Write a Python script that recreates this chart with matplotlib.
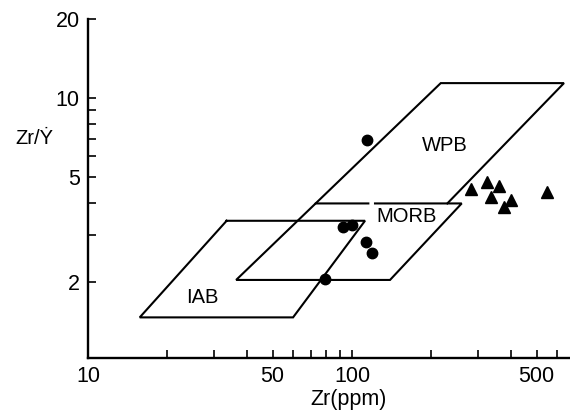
import matplotlib
matplotlib.use("Agg")
import matplotlib.pyplot as plt
from matplotlib.ticker import FixedLocator, FixedFormatter, NullFormatter

plt.rcParams['font.family'] = ['Liberation Sans', 'DejaVu Sans']

# Discrimination fields (Zr ppm, Zr/Y), drawn as open outlines
wpb_zr = [229.6, 635.0, 216.8, 72.8]
wpb_ratio = [3.97, 11.4, 11.4, 3.97]

morb_zr = [122.2, 260.3, 139.3, 36.4, 72.8, 115.3]
morb_ratio = [3.97, 3.97, 2.03, 2.03, 3.97, 3.97]

iab_zr = [33.5, 112.0, 59.8, 15.7, 33.5]
iab_ratio = [3.41, 3.41, 1.462, 1.462, 3.41]

# Samples
circle_zr = [114.3, 92.7, 100.0, 112.7, 118.8, 79.0]
circle_ratio = [6.90, 3.23, 3.30, 2.82, 2.57, 2.05]

triangle_zr = [281.6, 325.5, 361.4, 336.1, 400.0, 376.5, 546.4]
triangle_ratio = [4.52, 4.79, 4.62, 4.20, 4.08, 3.85, 4.39]

field_labels = ["WPB", "MORB", "IAB"]
label_zr = [225.0, 161.0, 27.1]
label_ratio = [6.61, 3.53, 1.74]

x_ticks = [10, 20, 30, 40, 50, 60, 70, 80, 90, 100, 200, 300, 400, 500, 600]
x_ticklabels = ["10", "", "", "", "50", "", "", "", "", "100", "", "", "", "500", ""]
y_ticks = [2, 3, 4, 5, 6, 7, 8, 9, 10, 20]
y_ticklabels = ["2", "", "", "5", "", "", "", "", "10", "20"]

fig = plt.figure(figsize=(5.7, 4.13), dpi=100)
ax = fig.add_axes([0.15439, 0.13317, 0.8488, 0.82083])
ax.set_xscale('log')
ax.set_yscale('log')
ax.set_xlim(10, 680)
ax.set_ylim(1.024, 20)

lw = 1.5
ax.plot(wpb_zr, wpb_ratio, color='black', lw=lw, solid_joinstyle='miter')
ax.plot(morb_zr, morb_ratio, color='black', lw=lw, solid_joinstyle='miter')
ax.plot(iab_zr, iab_ratio, color='black', lw=lw, solid_joinstyle='miter')

ax.plot(circle_zr, circle_ratio, 'o', color='black', ms=7.5, zorder=3)
ax.plot(triangle_zr, triangle_ratio, '^', color='black', ms=8, zorder=3)

for t, x, y in zip(field_labels, label_zr, label_ratio):
    ax.text(x, y, t, ha='center', va='center', fontsize=14.5)

for s in ['top', 'right']:
    ax.spines[s].set_visible(False)
for s in ['left', 'bottom']:
    ax.spines[s].set_linewidth(1.7)

ax.xaxis.set_major_locator(FixedLocator(x_ticks))
ax.xaxis.set_major_formatter(FixedFormatter(x_ticklabels))
ax.xaxis.set_minor_formatter(NullFormatter())
ax.xaxis.set_minor_locator(FixedLocator([]))
ax.yaxis.set_major_locator(FixedLocator(y_ticks))
ax.yaxis.set_major_formatter(FixedFormatter(y_ticklabels))
ax.yaxis.set_minor_formatter(NullFormatter())
ax.yaxis.set_minor_locator(FixedLocator([]))
ax.tick_params(which='major', direction='in', length=6, width=1.2,
               labelsize=15.5, pad=6)

ax.set_xlabel("Zr(ppm)", fontsize=15.5)
ax.xaxis.set_label_coords(0.539, -0.09)
fig.text(34 / 570, 1 - 138 / 413, "Zr/Ẏ", ha='center', va='center', fontsize=14.5)

fig.savefig("out.png", dpi=100)
